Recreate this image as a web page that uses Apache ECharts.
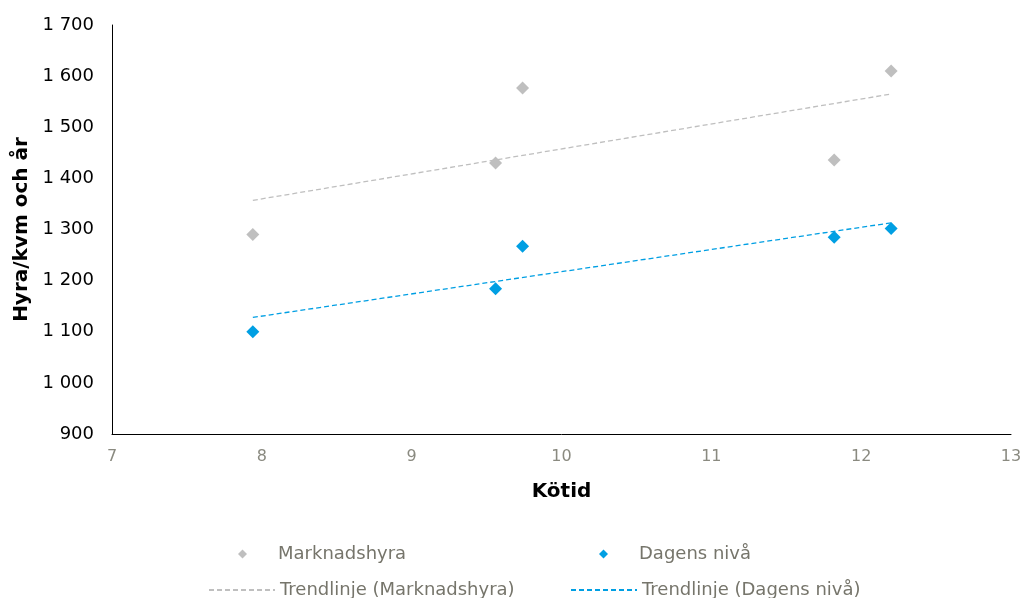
<!DOCTYPE html>
<html><head><meta charset="utf-8">
<script src="https://cdn.jsdelivr.net/npm/echarts@6/dist/echarts.min.js"></script>
<style>html,body{margin:0;padding:0;background:#fff}#c{width:1021px;height:598px}</style>
</head><body><div id="c"></div>
<script>
const kotid = [7.94, 9.56, 9.74, 11.82, 12.2];
const marknadshyra = [1290, 1430, 1577, 1436, 1610];
const dagensNiva = [1100, 1184, 1267, 1285, 1302];
const trendX = [7.94, 12.2];
const trendMarknad = [1357, 1565];
const trendDagens = [1128, 1313];
const seriesNames = ['Marknadshyra', 'Dagens nivå', 'Trendlinje (Marknadshyra)', 'Trendlinje (Dagens nivå)'];

const FONT = 'DejaVu Sans';
const GRAY = '#BFBFBF', BLUE = '#009FE3', TXT = '#76756b';
const pairs = (xs, ys) => xs.map((x, i) => [x, ys[i]]);
const fmt = v => String(v).replace(/\B(?=(\d{3})+(?!\d))/g, ' ');

const chart = echarts.init(document.getElementById('c'), null, {renderer: 'canvas'});
const symLegend = {itemWidth: 9, itemHeight: 9, symbolKeepAspect: true, itemGap: 5,
  itemStyle: {opacity: 1},
  textStyle: {color: TXT, fontSize: 18, fontFamily: FONT, padding: [0, 0, 0, 26]}};
const lineLegend = {itemWidth: 66, itemHeight: 8, itemGap: 5,
  itemStyle: {opacity: 0},
  textStyle: {color: TXT, fontSize: 18, fontFamily: FONT}};
chart.setOption({
  animation: false,
  textStyle: {fontFamily: FONT},
  grid: {left: 112, right: 10, top: 25, bottom: 164, containLabel: false, outerBoundsMode: 'none'},
  xAxis: {
    type: 'value', min: 7, max: 13, interval: 1,
    axisLine: {show: true, lineStyle: {color: '#000', width: 1}},
    axisTick: {show: false}, splitLine: {show: false},
    axisLabel: {color: '#8a8a80', fontSize: 16, margin: 15, fontFamily: FONT},
    name: 'Kötid', nameLocation: 'middle', nameGap: 48,
    nameTextStyle: {color: '#000', fontSize: 20, fontWeight: 'bold', fontFamily: FONT}
  },
  yAxis: {
    type: 'value', min: 900, max: 1700, interval: 100,
    axisLine: {show: true, lineStyle: {color: '#000', width: 1}},
    axisTick: {show: false}, splitLine: {show: false},
    axisLabel: {color: '#000', fontSize: 18, margin: 18, formatter: fmt, fontFamily: FONT},
    name: 'Hyra/kvm och år', nameLocation: 'middle', nameGap: 78, nameRotate: 90,
    nameTextStyle: {color: '#000', fontSize: 20, fontWeight: 'bold', fontFamily: FONT}
  },
  legend: [
    Object.assign({}, symLegend, {data: [{name: seriesNames[0], icon: 'diamond'}], left: 233, top: 540}),
    Object.assign({}, symLegend, {data: [{name: seriesNames[1], icon: 'diamond'}], left: 594, top: 540}),
    Object.assign({}, lineLegend, {data: [seriesNames[2]], left: 203, top: 576}),
    Object.assign({}, lineLegend, {data: [seriesNames[3]], left: 565, top: 576})
  ],
  series: [
    {name: seriesNames[0], type: 'scatter', symbol: 'diamond', symbolSize: 13,
     itemStyle: {color: GRAY, opacity: 1}, data: pairs(kotid, marknadshyra), z: 3},
    {name: seriesNames[1], type: 'scatter', symbol: 'diamond', symbolSize: 13,
     itemStyle: {color: BLUE, opacity: 1}, data: pairs(kotid, dagensNiva), z: 3},
    {name: seriesNames[2], type: 'line', symbol: 'none', itemStyle: {color: GRAY},
     lineStyle: {color: GRAY, width: 1.3, type: [5, 3]}, data: pairs(trendX, trendMarknad), z: 2},
    {name: seriesNames[3], type: 'line', symbol: 'none', itemStyle: {color: BLUE},
     lineStyle: {color: BLUE, width: 1.3, type: [5, 3]}, data: pairs(trendX, trendDagens), z: 2}
  ]
});
</script></body></html>
